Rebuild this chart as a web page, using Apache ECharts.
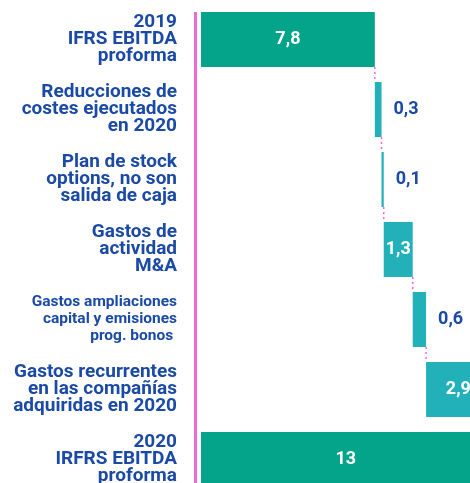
<!DOCTYPE html>
<html>
<head>
<meta charset="utf-8">
<script src="https://cdn.jsdelivr.net/npm/echarts@6/dist/echarts.min.js"></script>
<style>html,body{margin:0;padding:0;background:#fff}#main{width:470px;height:483px}</style>
</head>
<body>
<div id="main"></div>
<script>
var categories = [
    '2019\nIFRS EBITDA\nproforma',
    'Reducciones de\ncostes ejecutados\nen 2020',
    'Plan de stock\noptions, no son\nsalida de caja',
    'Gastos de\nactividad\nM&A',
    'Gastos ampliaciones\ncapital y emisiones\nprog. bonos ',
    'Gastos recurrentes\nen las compañías\nadquiridas en 2020',
    '2020\nIRFRS EBITDA\nproforma'
];
var values = [7.8, 0.3, 0.1, 1.3, 0.6, 2.9, 13];
var isTotal = [true, false, false, false, false, false, true];
var valueLabels = ['7,8', '0,3', '0,1', '1,3', '0,6', '2,9', '13'];

var FONT = 'Roboto';
var BLUE = '#1a4aa6';
var PINK = '#f06ad9';

// bases del waterfall
var bases = [];
var ends = [];
var run = 0;
for (var i = 0; i < values.length; i++) {
    if (isTotal[i]) {
        bases.push(0);
        run = values[i];
    } else {
        bases.push(run);
        run = run + values[i];
    }
    ends.push(run);
}
var connectors = [];
for (var i = 0; i < values.length - 1; i++) {
    connectors.push([ends[i], i]);
}

var barData = values.map(function (v, i) {
    var inside = v >= 1;
    return {
        value: v,
        itemStyle: { color: isTotal[i] ? '#03a48a' : '#22b1b9' },
        label: {
            show: true,
            position: inside ? 'inside' : 'right',
            distance: 12,
            color: inside ? '#fff' : BLUE,
            formatter: valueLabels[i]
        }
    };
});

var myChart = echarts.init(document.getElementById('main'));
var option = {
    animation: false,
    grid: { left: 201, top: 4.5, width: 312, height: 490, outerBoundsMode: 'none', containLabel: false },
    xAxis: { type: 'value', min: 0, max: 14, show: false },
    yAxis: {
        type: 'category',
        inverse: true,
        data: categories,
        axisLine: { show: false },
        axisTick: { show: false },
        axisLabel: {
            margin: 24,
            color: BLUE,
            fontFamily: FONT,
            fontWeight: 'bold',
            fontSize: 19,
            lineHeight: 17,
            align: 'right',
            formatter: function (v) {
                if (v.indexOf('ampliaciones') >= 0) {
                    return v.split('\n').map(function (s) { return '{s|' + s + '}'; }).join('\n');
                }
                return v;
            },
            rich: {
                s: { fontSize: 15.5, lineHeight: 17, fontWeight: 'bold', fontFamily: FONT, color: BLUE }
            }
        }
    },
    series: [
        {
            type: 'bar',
            stack: 'w',
            barWidth: 55,
            itemStyle: { color: 'transparent' },
            silent: true,
            data: bases
        },
        {
            type: 'bar',
            stack: 'w',
            barWidth: 55,
            label: { fontFamily: FONT, fontWeight: 'bold', fontSize: 18 },
            data: barData
        },
        {
            type: 'custom',
            data: connectors,
            encode: { x: 0, y: 1 },
            renderItem: function (params, api) {
                var x = api.value(0), idx = api.value(1);
                var p1 = api.coord([x, idx]);
                var p2 = api.coord([x, idx + 1]);
                return {
                    type: 'line',
                    shape: { x1: p1[0], y1: p1[1] + 27.5, x2: p2[0], y2: p2[1] - 27.5 },
                    style: { stroke: PINK, lineWidth: 1.5, lineDash: [2, 3] }
                };
            }
        }
    ]
};
myChart.setOption(option);

// linea rosa del eje
var p0 = myChart.convertToPixel({ gridIndex: 0 }, [0, 0]);
myChart.setOption({
    graphic: [{
        type: 'line',
        shape: { x1: p0[0] - 5.5, y1: p0[1] - 27.5, x2: p0[0] - 5.5, y2: 490 },
        style: { stroke: PINK, lineWidth: 3 }
    }]
});
</script>
</body>
</html>
